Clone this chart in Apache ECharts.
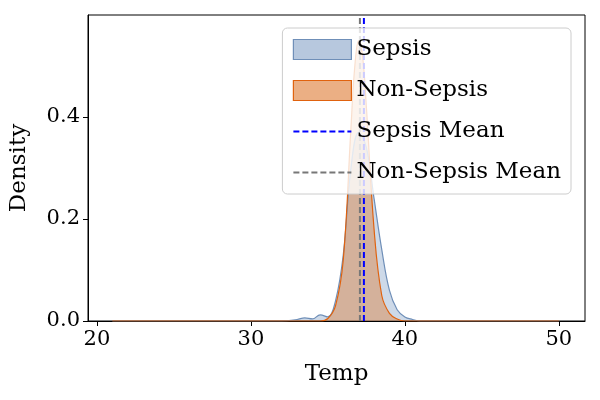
<!DOCTYPE html>
<html lang="en">
<head>
  <meta charset="UTF-8" />
  <title>Temp density</title>
</head>
<body style="margin:0">
  <div id="main" style="width: 600px; height: 400px;"></div>
  <script src="https://cdn.jsdelivr.net/npm/echarts@6/dist/echarts.min.js"></script>
  <script type="text/javascript">
    // KDE values
    const sepsisX = [21, 32, 33, 33.5, 34, 34.5, 35, 35.5, 36, 36.5, 37, 37.5, 38, 38.5, 39, 39.5, 40, 40.5, 41, 50]
    const sepsisY = [0, 0, 0.003, 0.006, 0.004, 0.012, 0.008, 0.04, 0.13, 0.3, 0.37, 0.34, 0.24, 0.14, 0.06, 0.022, 0.008, 0.003, 0, 0]
    const nonX = [21, 34.5, 35, 35.5, 36, 36.5, 36.75, 37, 37.25, 37.5, 38, 38.5, 39, 39.5, 40, 50]
    const nonY = [0, 0, 0.005, 0.03, 0.12, 0.38, 0.5, 0.55, 0.52, 0.42, 0.18, 0.05, 0.015, 0.004, 0, 0]
    const sepsisMean = 37.34
    const nonMean = 37.08

    const zip = (xs, ys) => xs.map((x, i) => [x, ys[i]])
    const font = "'DejaVu Serif', 'Liberation Serif', serif"

    var myChart = echarts.init(document.getElementById('main'))
    var option = {
      animation: false,
      textStyle: { fontFamily: font },
      grid: { left: 88, right: 15, top: 15, bottom: 79, show: true, borderColor: '#000', borderWidth: 1 },
      legend: {
        right: 29, top: 28,
        orient: 'vertical',
        itemWidth: 58, itemHeight: 20, itemGap: 18,
        padding: [10, 10, 10, 10],
        backgroundColor: 'rgba(255,255,255,0.8)',
        borderColor: '#ccc', borderWidth: 1, borderRadius: 5,
        textStyle: { fontSize: 23, fontFamily: font, color: '#000' },
        data: [
          { name: 'Sepsis', icon: 'rect', itemStyle: { borderColor: '#6f8fb8', borderWidth: 1.2 } },
          { name: 'Non-Sepsis', icon: 'rect', itemStyle: { borderColor: '#e0620e', borderWidth: 1.2 } },
          { name: 'Sepsis Mean', itemStyle: { opacity: 0 } },
          { name: 'Non-Sepsis Mean', itemStyle: { opacity: 0 } }
        ]
      },
      xAxis: {
        type: 'value', min: 19.42, max: 51.7, interval: 10,
        name: 'Temp', nameLocation: 'middle', nameGap: 42,
        nameTextStyle: { fontSize: 23, color: '#000' },
        axisLabel: { fontSize: 21, color: '#000', customValues: [20, 30, 40, 50] },
        axisTick: { customValues: [20, 30, 40, 50], inside: false, lineStyle: { color: '#000' } },
        axisLine: { lineStyle: { color: '#000' } },
        splitLine: { show: false }
      },
      yAxis: {
        type: 'value', min: 0, max: 0.6, interval: 0.2,
        name: 'Density', nameLocation: 'middle', nameGap: 57,
        nameTextStyle: { fontSize: 23, color: '#000' },
        axisLabel: { fontSize: 21, color: '#000', customValues: [0, 0.2, 0.4], formatter: v => v.toFixed(1) },
        axisTick: { show: true, customValues: [0, 0.2, 0.4], lineStyle: { color: '#000' } },
        axisLine: { show: true, lineStyle: { color: '#000' } },
        splitLine: { show: false }
      },
      series: [
        {
          name: 'Sepsis', type: 'line', smooth: 0.4, symbol: 'none',
          data: zip(sepsisX, sepsisY),
          itemStyle: { color: 'rgba(112,146,190,0.5)' },
          lineStyle: { color: '#6f8fb8', width: 1.2 },
          areaStyle: { color: 'rgba(112,146,190,0.5)' }
        },
        {
          name: 'Non-Sepsis', type: 'line', smooth: 0.4, symbol: 'none',
          data: zip(nonX, nonY),
          itemStyle: { color: 'rgba(222,122,50,0.6)' },
          lineStyle: { color: '#e0620e', width: 1.2 },
          areaStyle: { color: 'rgba(222,122,50,0.6)' }
        },
        {
          name: 'Sepsis Mean', type: 'line', symbol: 'none',
          data: [[sepsisMean, 0], [sepsisMean, 0.6]],
          itemStyle: { color: '#0000ff' },
          lineStyle: { color: '#0000ff', type: [6, 3], width: 2 }
        },
        {
          name: 'Non-Sepsis Mean', type: 'line', symbol: 'none',
          data: [[nonMean, 0], [nonMean, 0.6]],
          itemStyle: { color: '#777' },
          lineStyle: { color: '#777', type: [6, 3], width: 2 }
        }
      ]
    }
    myChart.setOption(option)
  </script>
</body>
</html>
